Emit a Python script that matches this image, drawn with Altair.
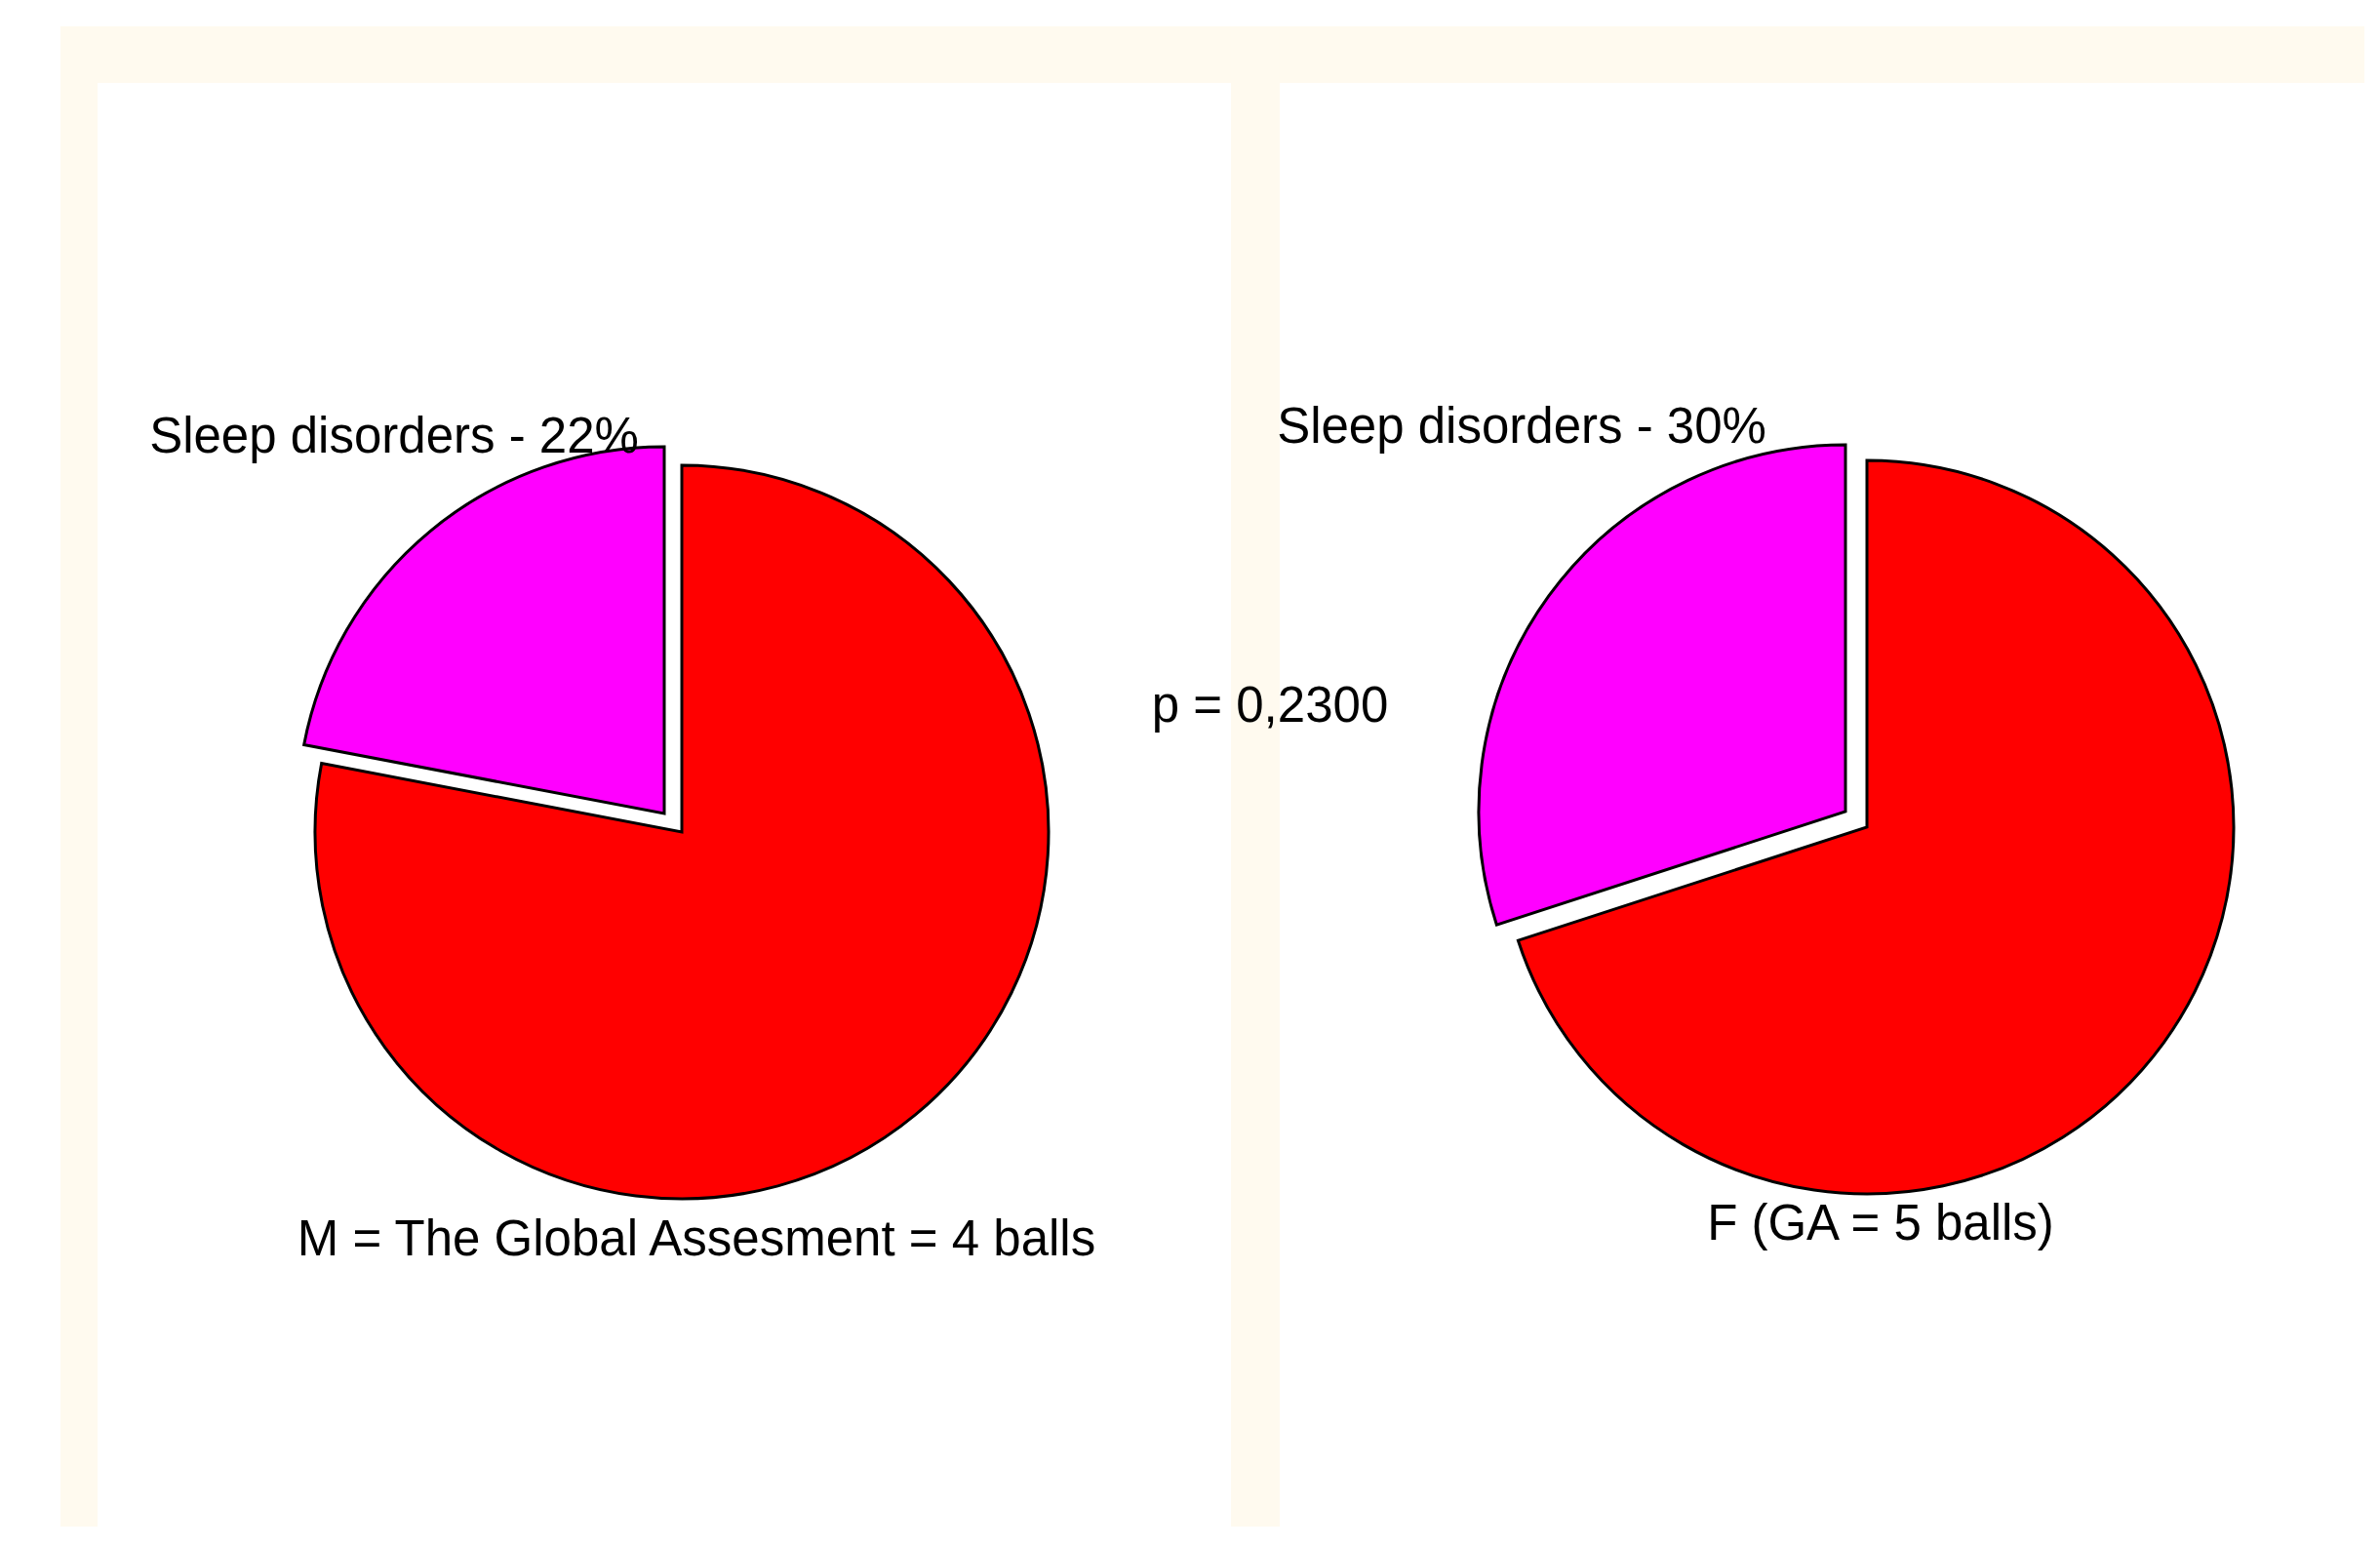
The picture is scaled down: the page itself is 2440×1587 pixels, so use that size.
import altair as alt
import pandas as pd

# ---- data ----
groups = ["M", "F"]
slice_names = ["Other", "Sleep disorders"]
m_values = [78, 22]
f_values = [70, 30]
slice_colors = ["#FF0000", "#FF00FF"]
captions = ["M = The Global Assesment = 4 balls", "F (GA = 5 balls)"]
p_text = ["p = 0,2300"]

rows = []
for g, vals in zip(groups, [m_values, f_values]):
    for i, (s, v) in enumerate(zip(slice_names, vals)):
        rows.append({"group": g, "slice": s, "value": v, "order": i})
df = pd.DataFrame(rows)

FONT = "Liberation Sans"
FS = 51
R = 376
H = 1480
W_LEFT = 1162
W_RIGHT = 1112
GAP = 50
CREAM = "#FFFAEF"
CREAM_LEFT = 38
CREAM_TOP = 58
one = pd.DataFrame({"a": [0]})


def text_layer(values, x, y):
    return alt.Chart(pd.DataFrame({"t": values})).mark_text(
        font=FONT, fontSize=FS, align="center", baseline="alphabetic", color="black"
    ).encode(text="t:N", x=alt.value(x), y=alt.value(y))


def box(color, x, x2, y, y2):
    return alt.Chart(one).mark_rect(color=color, strokeWidth=0).encode(
        x=alt.value(x), x2=alt.value(x2), y=alt.value(y), y2=alt.value(y2)
    )


def panel(group, caption, width, cx, cy, explode, top_pos, cap_pos, back=None, extra=None):
    base = (
        alt.Chart(df)
        .transform_filter(alt.datum.group == group)
        .transform_window(cum="sum(value)", sort=[alt.SortField("order")])
        .transform_calculate(
            t1="datum.cum / 100 * 2 * PI",
            t0="(datum.cum - datum.value) / 100 * 2 * PI",
        )
    )
    color = alt.Color(
        "slice:N",
        scale=alt.Scale(domain=slice_names, range=slice_colors),
        legend=None,
    )
    enc = dict(
        theta=alt.Theta("t0:Q", scale=None, stack=None),
        theta2=alt.Theta2("t1:Q"),
        color=color,
        x=alt.value(cx),
        y=alt.value(cy),
    )
    main = base.transform_filter(alt.datum.slice == slice_names[0]).mark_arc(
        radius=R, stroke="black", strokeWidth=3
    ).encode(**enc)
    expl = base.transform_filter(alt.datum.slice == slice_names[1]).mark_arc(
        radius=R, stroke="black", strokeWidth=3,
        xOffset=explode[0], yOffset=explode[1]
    ).encode(**enc)
    lbl = (
        base.transform_filter(alt.datum.slice == slice_names[1])
        .transform_calculate(label="datum.slice + ' - ' + datum.value + '%'")
        .mark_text(font=FONT, fontSize=FS, align="center", baseline="alphabetic", color="black")
        .encode(text="label:N", x=alt.value(top_pos[0]), y=alt.value(top_pos[1]))
    )
    cap = text_layer([caption], cap_pos[0], cap_pos[1])
    layers = []
    if back is not None:
        layers.append(back)
    layers += [box("white", 0, width, 0, H), main, expl, lbl, cap]
    if extra is not None:
        layers.append(extra)
    return alt.layer(*layers).properties(width=width, height=H)


left = panel(
    groups[0], captions[0], W_LEFT, 599, 768, (-18, -19), (304, 379), (614, 1202),
    back=box(CREAM, -CREAM_LEFT, W_LEFT + GAP + W_RIGHT, -CREAM_TOP, H),
)
right = panel(
    groups[1], captions[1], W_RIGHT, 602, 763, (-22, -16), (248, 369), (616, 1186),
    extra=text_layer(p_text, -10, 655),
)

chart = (
    alt.hconcat(left, right, spacing=GAP, bounds="flush")
    .properties(
        padding={"left": 92 - CREAM_LEFT, "top": 77 - CREAM_TOP, "right": 0, "bottom": 0},
        background="white",
    )
    .configure_view(stroke=None, fill=None)
)

chart.save("out.html", embed_options={"renderer": "svg", "actions": False})
